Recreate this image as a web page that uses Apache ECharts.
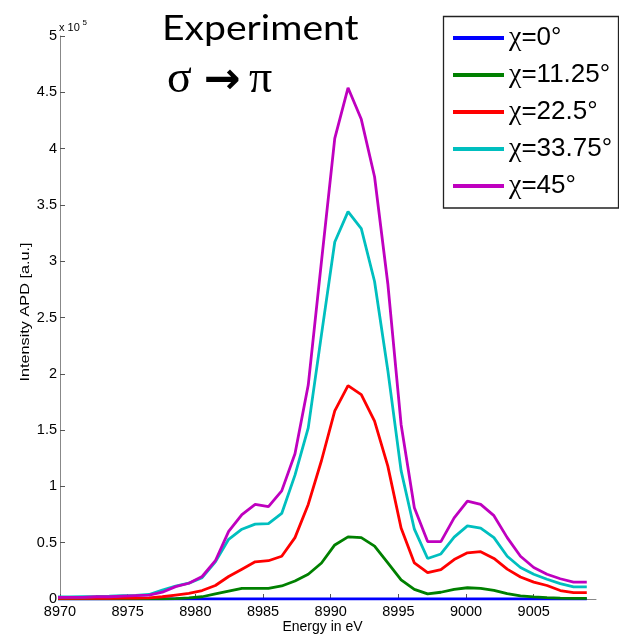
<!DOCTYPE html>
<html>
<head>
<meta charset="utf-8">
<script src="https://cdn.jsdelivr.net/npm/echarts@6/dist/echarts.min.js"></script>
<style>html,body{margin:0;padding:0;background:#fff}#c{width:619px;height:635px}</style>
</head>
<body>
<div id="c"></div>
<script>
// Energy grid (eV)
var energies = [8969.72, 8970.70, 8971.68, 8972.66, 8973.64, 8974.62, 8975.60, 8976.58, 8977.56, 8978.54,
  8979.52, 8980.50, 8981.48, 8982.46, 8983.44, 8984.42, 8985.40, 8986.38, 8987.36, 8988.34,
  8989.32, 8990.30, 8991.28, 8992.26, 8993.24, 8994.22, 8995.20, 8996.18, 8997.16, 8998.14,
  8999.12, 9000.10, 9001.08, 9002.06, 9003.04, 9004.02, 9005.00, 9005.98, 9006.96, 9007.94, 9008.92];
// Intensities in units of 1e5
var chi0 = [0,0,0,0,0,0,0,0,0,0, 0,0,0,0,0,0,0,0,0,0, 0,0,0,0,0,0,0,0,0,0, 0,0,0,0,0,0,0,0,0,0,0];
var chi1125 = [0.001,0.001,0.001,0.001,0.001,0.001,0.001,0.001,0.001,0.003,
  0.01,0.02,0.045,0.07,0.095,0.095,0.095,0.116,0.16,0.22,
  0.32,0.48,0.552,0.545,0.47,0.32,0.17,0.086,0.045,0.06,
  0.086,0.10,0.095,0.077,0.047,0.027,0.018,0.012,0.008,0.005,0.005];
var chi225 = [0.005,0.005,0.005,0.005,0.006,0.007,0.008,0.01,0.02,0.035,
  0.05,0.075,0.12,0.2,0.265,0.33,0.34,0.38,0.545,0.84,
  1.23,1.67,1.895,1.815,1.58,1.18,0.63,0.32,0.234,0.26,
  0.35,0.41,0.42,0.36,0.265,0.196,0.15,0.12,0.075,0.056,0.056];
var chi3375 = [0.018,0.018,0.02,0.022,0.025,0.03,0.033,0.04,0.08,0.115,
  0.14,0.19,0.33,0.53,0.62,0.665,0.67,0.76,1.1,1.52,
  2.35,3.17,3.44,3.29,2.82,2.03,1.14,0.62,0.36,0.40,
  0.55,0.65,0.63,0.545,0.38,0.28,0.22,0.175,0.136,0.107,0.107];
var chi45 = [0.015,0.015,0.015,0.02,0.02,0.025,0.03,0.035,0.06,0.11,
  0.14,0.2,0.34,0.6,0.75,0.84,0.82,0.96,1.29,1.9,
  3.0,4.09,4.54,4.26,3.75,2.8,1.55,0.81,0.51,0.51,
  0.72,0.87,0.84,0.74,0.545,0.38,0.28,0.22,0.18,0.15,0.15];
var seriesNames = ['χ=0°', 'χ=11.25°', 'χ=22.5°', 'χ=33.75°', 'χ=45°'];
var seriesColors = ['#0000ff', '#008000', '#ff0000', '#00bfbf', '#bf00bf'];
var seriesValues = [chi0, chi1125, chi225, chi3375, chi45];
var xTicks = [8970, 8975, 8980, 8985, 8990, 8995, 9000, 9005];
var yTicks = [0, 0.5, 1, 1.5, 2, 2.5, 3, 3.5, 4, 4.5, 5];

function pairs(vals) {
  return energies.map(function (e, i) { return [e, vals[i]]; });
}

var chart = echarts.init(document.getElementById('c'));
var series = seriesValues.map(function (vals, i) {
  return {
    name: seriesNames[i],
    type: 'line',
    data: pairs(vals),
    symbol: 'none',
    clip: true,
    lineStyle: { color: seriesColors[i], width: 2.8 },
    itemStyle: { color: seriesColors[i] },
    z: 2 + i
  };
});

chart.setOption({
  animation: false,
  backgroundColor: '#fff',
  grid: { left: 60, right: 23, top: 36, bottom: 36 },
  xAxis: {
    type: 'value', min: 8970, max: 9009.6, interval: 5,
    axisLine: { show: true, lineStyle: { color: '#888', width: 1 } },
    axisTick: { show: true, inside: true, length: 5, lineStyle: { color: '#555' }, customValues: xTicks },
    axisLabel: { margin: 5, fontFamily: 'Liberation Sans', fontSize: 14.5, color: '#000', customValues: xTicks,
      formatter: function (v) { return String(v); } },
    splitLine: { show: false }
  },
  yAxis: {
    type: 'value', min: 0, max: 5, interval: 0.5,
    axisLine: { show: true, lineStyle: { color: '#888', width: 1 } },
    axisTick: { show: true, inside: true, length: 5, lineStyle: { color: '#555' }, customValues: yTicks },
    axisLabel: { margin: 3, fontFamily: 'Liberation Sans', fontSize: 14.5, color: '#000', customValues: yTicks,
      formatter: function (v) { return String(v); } },
    splitLine: { show: false }
  },
  legend: {
    orient: 'vertical', left: 443, top: 16,
    padding: [8, 0, 0, 10],
    itemWidth: 51, itemHeight: 4, itemGap: 9,
    icon: 'rect',
    data: seriesNames,
    formatter: function (n) { return '{c|χ}{n|' + n.slice(1) + '}'; },
    textStyle: {
      color: '#000',
      rich: {
        c: { fontFamily: 'Liberation Serif', fontSize: 28, lineHeight: 26, color: '#000' },
        n: { fontFamily: 'Liberation Sans', fontSize: 26, lineHeight: 26, color: '#000' }
      }
    }
  },
  graphic: [
    { type: 'rect', z: 0, shape: { x: 443.5, y: 16.5, width: 175, height: 191.5 },
      style: { fill: '#fff', stroke: '#222', lineWidth: 1.3 } },
    { type: 'text', x: 162, y: 29, scaleX: 1.15, z: 10,
      style: { text: 'Experiment', font: '34px Lato', fill: '#000', textAlign: 'left', textVerticalAlign: 'middle' } },
    { type: 'text', x: 167, y: 80, z: 10,
      style: { text: 'σ', font: '46px Liberation Serif', fill: '#000', textAlign: 'left', textVerticalAlign: 'middle' } },
    { type: 'text', x: 222, y: 82, z: 10,
      style: { text: '→', font: 'bold 44px DejaVu Sans', fill: '#000', textAlign: 'center', textVerticalAlign: 'middle' } },
    { type: 'text', x: 249, y: 80, z: 10,
      style: { text: 'π', font: '46px Liberation Serif', fill: '#000', textAlign: 'left', textVerticalAlign: 'middle' } },
    { type: 'text', x: 59, y: 28, z: 10,
      style: { text: 'x 10', font: '11px Liberation Sans', fill: '#000', textAlign: 'left', textVerticalAlign: 'middle' } },
    { type: 'text', x: 82.5, y: 23, z: 10,
      style: { text: '5', font: '8px Liberation Sans', fill: '#000', textAlign: 'left', textVerticalAlign: 'middle' } },
    { type: 'text', x: 26, y: 312, rotation: Math.PI / 2, scaleX: 1.3, z: 10,
      style: { text: 'Intensity APD [a.u.]', font: '12.5px Liberation Sans', fill: '#000', textAlign: 'center', textVerticalAlign: 'middle' } },
    { type: 'text', x: 322.5, y: 627, z: 10,
      style: { text: 'Energy in eV', font: '14px Liberation Sans', fill: '#000', textAlign: 'center', textVerticalAlign: 'middle' } }
  ],
  series: series
});
</script>
</body>
</html>
